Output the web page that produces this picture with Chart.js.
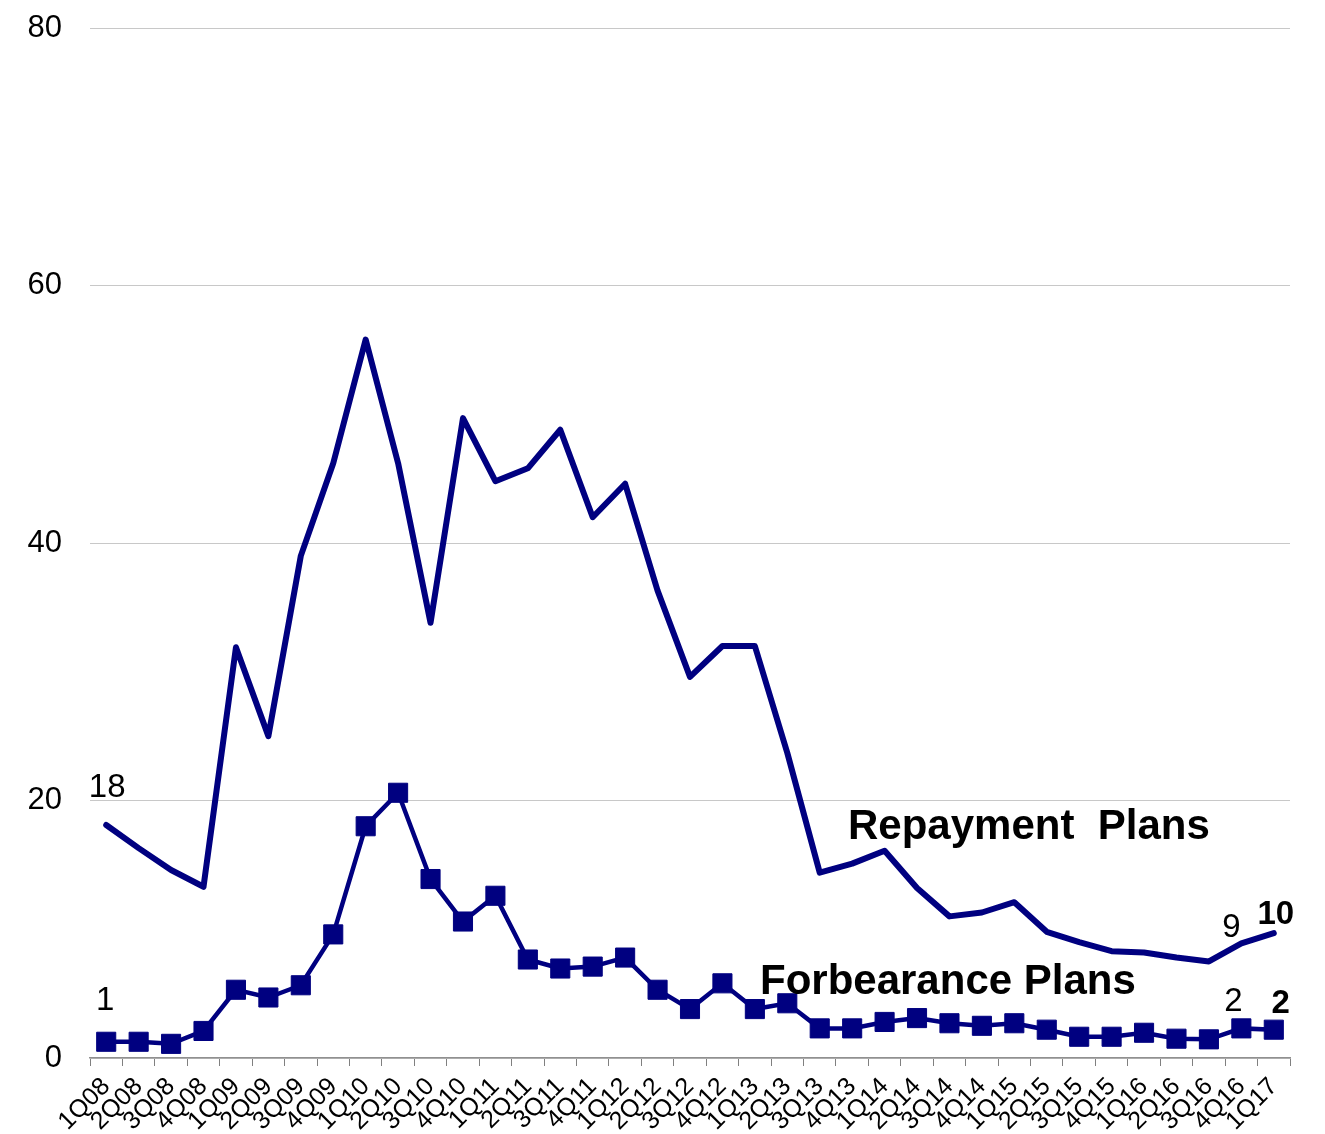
<!DOCTYPE html>
<html>
<head>
<meta charset="utf-8">
<script src="https://cdn.jsdelivr.net/npm/chart.js@4.4.1/dist/chart.umd.min.js"></script>
<style>
  html, body { margin: 0; padding: 0; background: #fff; }
  #wrap { width: 1325px; height: 1134px; }
</style>
</head>
<body>
<div id="wrap"><canvas id="plans" width="1325" height="1134"></canvas></div>
<script>
// Quarterly counts, repayment vs forbearance plans
const quarters = [
  '1Q08', '2Q08', '3Q08', '4Q08', '1Q09', '2Q09', '3Q09', '4Q09',
  '1Q10', '2Q10', '3Q10', '4Q10', '1Q11', '2Q11', '3Q11', '4Q11',
  '1Q12', '2Q12', '3Q12', '4Q12', '1Q13', '2Q13', '3Q13', '4Q13',
  '1Q14', '2Q14', '3Q14', '4Q14', '1Q15', '2Q15', '3Q15', '4Q15',
  '1Q16', '2Q16', '3Q16', '4Q16', '1Q17'
];

const repaymentPlans = [
  18.1, 16.3, 14.6, 13.3, 31.9, 25.0, 39.0, 46.2,
  55.8, 46.2, 33.8, 49.7, 44.8, 45.8, 48.8, 42.0,
  44.6, 36.3, 29.6, 32.0, 32.0, 23.7, 14.4, 15.1,
  16.1, 13.2, 11.0, 11.3, 12.1, 9.8, 9.0, 8.3,
  8.2, 7.8, 7.5, 8.9, 9.7
];

const forbearancePlans = [
  1.26, 1.26, 1.1, 2.1, 5.3, 4.7, 5.65, 9.6,
  18.0, 20.6, 13.9, 10.6, 12.6, 7.65, 6.95, 7.1,
  7.8, 5.3, 3.8, 5.8, 3.8, 4.25, 2.3, 2.3,
  2.8, 3.1, 2.7, 2.5, 2.7, 2.2, 1.65, 1.65,
  1.96, 1.5, 1.45, 2.3, 2.2
];

const yTicks = [0, 20, 40, 60, 80];

const NAVY = '#000080';
const FONT = '"Liberation Sans", Arial, Helvetica, sans-serif';

// value callouts: dataset, point index, weight, offset from the point
const callouts = [
  { ds: 0, i: 0, bold: false, dx: 1, dy: -37 },
  { ds: 1, i: 0, bold: false, dx: -1, dy: -41 },
  { ds: 0, i: 35, bold: false, dx: -10, dy: -16 },
  { ds: 0, i: 36, bold: true, dx: 2, dy: -18 },
  { ds: 1, i: 35, bold: false, dx: -8, dy: -26 },
  { ds: 1, i: 36, bold: true, dx: 7, dy: -26 }
];

// series names written inside the plot
const seriesNames = [
  { text: 'Repayment  Plans', x: 848, y: 839 },
  { text: 'Forbearance Plans', x: 760, y: 994 }
];

const annotate = {
  id: 'annotate',
  afterDatasetsDraw(chart) {
    const ctx = chart.ctx;
    ctx.save();
    ctx.fillStyle = '#000';
    ctx.textAlign = 'center';
    ctx.textBaseline = 'middle';
    callouts.forEach(c => {
      const pt = chart.getDatasetMeta(c.ds).data[c.i];
      const v = chart.data.datasets[c.ds].data[c.i];
      ctx.font = (c.bold ? 'bold ' : '') + '33px ' + FONT;
      ctx.fillText(String(Math.round(v)), pt.x + c.dx, pt.y + c.dy);
    });
    ctx.textAlign = 'left';
    ctx.textBaseline = 'alphabetic';
    ctx.font = 'bold 42px ' + FONT;
    seriesNames.forEach(s => ctx.fillText(s.text, s.x, s.y));
    ctx.restore();
  }
};

new Chart(document.getElementById('plans'), {
  type: 'line',
  data: {
    labels: quarters,
    datasets: [
      {
        label: 'Repayment Plans',
        data: repaymentPlans,
        borderColor: NAVY,
        borderWidth: 6,
        pointRadius: 0,
        tension: 0,
        borderJoinStyle: 'round',
        borderCapStyle: 'round'
      },
      {
        label: 'Forbearance Plans',
        data: forbearancePlans,
        borderColor: NAVY,
        backgroundColor: NAVY,
        borderWidth: 4.5,
        pointStyle: 'rect',
        pointRadius: 13.5,
        pointBorderWidth: 1,
        pointBackgroundColor: NAVY,
        pointBorderColor: NAVY,
        tension: 0
      }
    ]
  },
  options: {
    responsive: false,
    animation: false,
    layout: { padding: { top: 28, right: 35, left: 0, bottom: 0 } },
    plugins: {
      legend: { display: false },
      tooltip: { enabled: false }
    },
    scales: {
      x: {
        offset: true,
        grid: {
          drawOnChartArea: false,
          drawTicks: true,
          tickLength: 8,
          offset: true,
          color: '#808080'
        },
        border: { display: true, color: '#909090', width: 1.5 },
        ticks: {
          color: '#000',
          font: { family: FONT, size: 25 },
          minRotation: 45,
          maxRotation: 45,
          autoSkip: false,
          padding: 6
        },
        afterFit(scale) { scale.height = 76; }
      },
      y: {
        min: 0,
        max: 80,
        afterBuildTicks(scale) { scale.ticks = yTicks.map(v => ({ value: v })); },
        // invisible tick marks keep the labels clear of the plot edge
        grid: { color: '#c8c8c8', lineWidth: 1, drawTicks: true, tickLength: 28, tickColor: 'rgba(0,0,0,0)' },
        border: { display: false },
        ticks: {
          color: '#000',
          font: { family: FONT, size: 31 },
          padding: 0
        },
        afterFit(scale) { scale.width = 90; }
      }
    }
  },
  plugins: [annotate]
});
</script>
</body>
</html>
